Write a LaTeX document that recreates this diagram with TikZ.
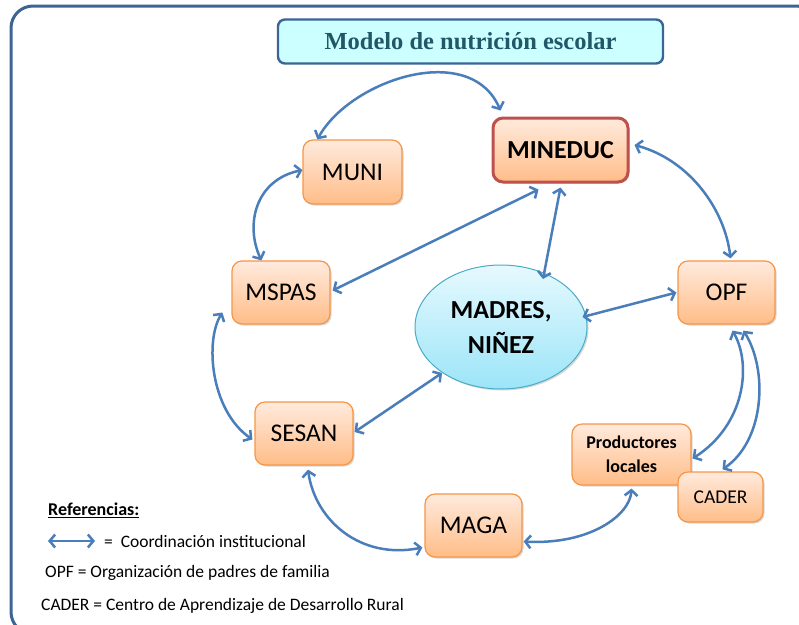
\documentclass[tikz,border=0pt]{standalone}
\usepackage{fontspec}
\setmainfont{Carlito}
\newfontfamily\titlefont{Liberation Serif}
\usetikzlibrary{arrows.meta,calc,shadows,shapes.geometric}
\definecolor{arrowblue}{HTML}{4A7EBB}
\definecolor{frameblue}{HTML}{3C6494}
\definecolor{boxborder}{HTML}{F79646}
\definecolor{boxtop}{HTML}{FFEADD}
\definecolor{boxbot}{HTML}{FFBD88}
\definecolor{redborder}{HTML}{C0504D}
\definecolor{elltop}{HTML}{E6F9FE}
\definecolor{ellbot}{HTML}{9BE5F8}
\definecolor{ellborder}{HTML}{4BACC6}
\definecolor{titlefill}{HTML}{CCFFFF}
\definecolor{titletext}{HTML}{215868}
\tikzset{
  orgbox/.style={draw=boxborder, line width=1.2pt, rounded corners=10pt,
    top color=boxtop, bottom color=boxbot, inner sep=0pt, align=center,
    drop shadow={shadow xshift=1.5pt, shadow yshift=-1.5pt, opacity=0.25, fill=black!60},
    font=\fontsize{25.5}{28}\selectfont},
  link/.style={draw=arrowblue, line width=2.5pt,
    {Straight Barb[length=5.5pt,width=13pt]}-{Straight Barb[length=5.5pt,width=13pt]}},
  legendtext/.style={anchor=west, inner sep=0pt, font=\fontsize{17.5}{20}\selectfont}
}
\begin{document}
\begin{tikzpicture}[x=1pt,y=1pt]
\useasboundingbox (0,0) rectangle (799,-624);
\clip (0,0) rectangle (799,-624);
\fill[white] (0,0) rectangle (799,-624);
% outer frame
\draw[frameblue, line width=3pt, rounded corners=22pt] (11,-6) rectangle (818,-634);
% title
\node[draw=frameblue, line width=2.4pt, rounded corners=7pt, fill=titlefill,
  minimum width=385pt, minimum height=44pt, inner sep=0pt,
  font=\titlefont\bfseries\fontsize{24.5}{28}\selectfont, text=titletext]
  (title) at (470.5,-41.5) {Modelo de nutrición escolar};
% nodes
\node[orgbox, minimum width=99pt, minimum height=64pt] (muni) at (352.5,-172) {MUNI};
\node[orgbox, draw=redborder, line width=3pt, minimum width=135pt, minimum height=64pt,
  font=\bfseries\fontsize{26}{28}\selectfont] (mineduc) at (560.5,-150) {MINEDUC};
\node[orgbox, minimum width=98pt, minimum height=63pt] (mspas) at (281,-292.5) {MSPAS};
\node[orgbox, minimum width=98pt, minimum height=63pt] (sesan) at (304,-433.5) {SESAN};
\node[orgbox, minimum width=97pt, minimum height=63pt] (maga) at (473.5,-525.5) {MAGA};
\node[orgbox, minimum width=97pt, minimum height=63pt] (opf) at (726.5,-292.5) {OPF};
\node[orgbox, minimum width=119pt, minimum height=61pt,
  font=\bfseries\fontsize{18}{24}\selectfont] (prod) at (631.5,-454.5) {Productores\\locales};
\node[orgbox, minimum width=85pt, minimum height=50pt,
  font=\fontsize{19.5}{22}\selectfont] (cader) at (720.5,-497) {CADER};
\node[ellipse, draw=ellborder, line width=1pt, top color=elltop, bottom color=ellbot,
  minimum width=172pt, minimum height=124pt, inner sep=0pt, align=center,
  drop shadow={shadow xshift=1.5pt, shadow yshift=-1.5pt, opacity=0.25, fill=black!60},
  font=\bfseries\fontsize{26}{35}\selectfont] (ell) at (501,-327) {MADRES,\\NIÑEZ};
% connectors
\draw[link] ($(muni.north west)+(15,0)$) .. controls (350,-80) and (470,-40) .. ($(mineduc.north west)+(9,6)$);
\draw[link] ($(muni.west)+(0,2)$) .. controls (255,-180) and (245,-225) .. ($(mspas.north west)+(30,0)$);
\draw[link] ($(mineduc.south west)+(47,-6)$) -- ($(mspas.east)+(2,2)$);
\draw[link] ($(mineduc.south)+(0,-4)$) -- ($(ell.center)+(42,48)$);
\draw[link] ($(mineduc.east)+(5,5)$) .. controls (690,-160) and (725,-210) .. ($(opf.north)+(4,2)$);
\draw[link] ($(opf.west)+(-1,0)$) -- ($(ell.east)+(-5,10)$);
\draw[link] ($(opf.south)+(6,-6)$) .. controls (752,-365) and (745,-425) .. ($(prod.east)+(1,-4)$);
\draw[link] ($(opf.south)+(17,-6)$) .. controls (768,-370) and (765,-440) .. ($(cader.north)+(2,2)$);
\draw[link] ($(prod.south)+(0,-3)$) .. controls (630,-515) and (590,-545) .. ($(maga.east)+(1,-16)$);
\draw[link] ($(sesan.south)+(4,-4)$) .. controls (315,-520) and (360,-560) .. ($(maga.west)+(-2,-22)$);
\draw[link] ($(mspas.west)+(-9,-20)$) .. controls (205,-340) and (210,-410) .. ($(sesan.west)+(-2,-6)$);
\draw[link] ($(sesan.east)+(1,1.5)$) -- ($(ell.center)+(-59,-46)$);
% legend
\node[legendtext, font=\bfseries\fontsize{18}{20}\selectfont] (ref) at (48,-510) {\underline{Referencias:}};
\coordinate (legA) at (48,-541);
\coordinate (legB) at (95,-541);
\draw[link] (legA) -- (legB);
\node[legendtext] (legtxt) at (104,-541) {=\ \ Coordinación institucional};
\node[legendtext] (opfdef) at (45,-573) {OPF = Organización de padres de familia};
\node[legendtext] (caderdef) at (41,-606) {CADER = Centro de Aprendizaje de Desarrollo Rural};
\end{tikzpicture}
\end{document}
